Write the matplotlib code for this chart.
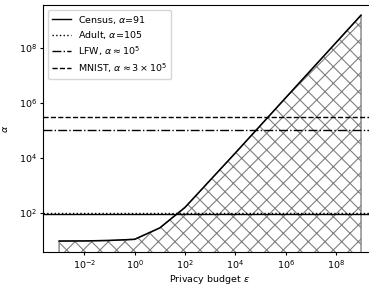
import numpy as np
import matplotlib
matplotlib.use('Agg')
import matplotlib.pyplot as plt
from matplotlib.ticker import NullLocator

# Datos de la curva (epsilon vs alpha)
eps = [1e-3, 1e-2, 1e-1, 1e0, 1e1, 1e2, 1e3, 1e4, 1e5, 1e6, 1e7, 1e8, 1e9]
alpha = [9.7, 9.8, 10.2, 11.2, 29, 160, 1.55e3, 1.5e4, 1.5e5, 1.5e6, 1.5e7, 1.5e8, 1.5e9]

# Lineas horizontales
ref_labels = ['Census, $\\alpha$=91', 'Adult, $\\alpha$=105',
              'LFW, $\\alpha \\approx 10^5$', 'MNIST, $\\alpha \\approx 3 \\times 10^5$']
ref_values = [91, 105, 1e5, 3e5]
ref_styles = ['-', ':', '-.', '--']

xtick_vals = [1e-2, 1e0, 1e2, 1e4, 1e6, 1e8]
ytick_vals = [1e2, 1e4, 1e6, 1e8]

plt.rcParams['font.size'] = 6.8
plt.rcParams['hatch.linewidth'] = 0.8
plt.rcParams['xtick.major.size'] = 2.5
plt.rcParams['ytick.major.size'] = 2.5
plt.rcParams['xtick.major.pad'] = 2.2
plt.rcParams['ytick.major.pad'] = 2.2

fig = plt.figure(figsize=(3.69, 2.87), dpi=100)
ax = fig.add_axes([0.1173, 0.121, 0.902, 0.861])

ax.fill_between(eps, alpha, 1e-3, facecolor='none', edgecolor='grey', hatch='xx', linewidth=1.0)
ax.plot(eps, alpha, color='black', linewidth=1.1)

for v, s, lab in zip(ref_values, ref_styles, ref_labels):
    ax.axhline(v, color='black', linestyle=s, linewidth=1.0, label=lab)

ax.set_xscale('log')
ax.set_yscale('log')
ax.set_xlim(10**-3.63, 10**9.6)
ax.set_ylim(10**0.58, 10**9.54)
ax.set_xticks(xtick_vals)
ax.set_yticks(ytick_vals)
ax.xaxis.set_minor_locator(NullLocator())
ax.yaxis.set_minor_locator(NullLocator())

ax.set_xlabel('Privacy budget $\\varepsilon$', labelpad=1)
ax.set_ylabel('$\\alpha$', labelpad=6)
ax.legend(loc='upper left', fontsize=6.8, labelspacing=0.35)

fig.savefig('out.png', dpi=100)
